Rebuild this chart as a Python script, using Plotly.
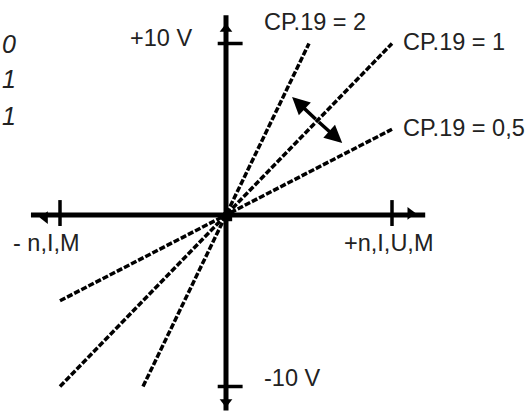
import plotly.graph_objects as go

# Characteristic lines: (label, x_end, y_end) with line through origin
curve_labels = ["CP.19 = 2", "CP.19 = 1", "CP.19 = 0,5"]
curve_x_neg = [-5, -10, -10]
curve_y_neg = [-10, -10, -5]
curve_x_pos = [5, 10, 10]
curve_y_pos = [10, 10, 5]

axis_x_range = [-11.75, 12.0]
axis_y_range = [-11.4, 11.65]
tick_vals = [-10, 10]
axis_labels = ["+10 V", "-10 V", "- n,I,M", "+n,I,U,M"]
left_digits = ["0", "1", "1"]

# pixel mapping helpers
W, H = 525, 411
OX, OY, SX, SY = 226, 215, 16.6, 17.15
xr = [(0 - OX) / SX, (W - OX) / SX]
yr = [(OY - H) / SY, (OY - 0) / SY]

fig = go.Figure()
FONT = "Liberation Sans, Arial, Helvetica, sans-serif"
TXT = "#222222"

# characteristic lines
for xn, yn, xp, yp in zip(curve_x_neg, curve_y_neg, curve_x_pos, curve_y_pos):
    fig.add_trace(go.Scatter(x=[xn, 0, xp], y=[yn, 0, yp], mode="lines",
                             line=dict(color="black", width=3.5, dash="6px,2px"),
                             hoverinfo="skip", showlegend=False))

# axes
fig.add_trace(go.Scatter(x=axis_x_range, y=[0, 0], mode="lines",
                         line=dict(color="black", width=5), showlegend=False, hoverinfo="skip"))
fig.add_trace(go.Scatter(x=[0, 0], y=axis_y_range, mode="lines",
                         line=dict(color="black", width=5), showlegend=False, hoverinfo="skip"))
# axis arrow heads
fig.add_trace(go.Scatter(x=[0, 0, -10.9, 11.1], y=[10.85, -10.9, -0.15, 0.1], mode="markers",
                         marker=dict(symbol=["triangle-up", "triangle-down", "triangle-left", "triangle-right"],
                                     size=11, color="black"),
                         showlegend=False, hoverinfo="skip"))
# ticks
for v in tick_vals:
    fig.add_trace(go.Scatter(x=[-0.5, 1.0], y=[v, v], mode="lines",
                             line=dict(color="black", width=3.5), showlegend=False, hoverinfo="skip"))
    fig.add_trace(go.Scatter(x=[v, v], y=[0.87, -0.64], mode="lines",
                             line=dict(color="black", width=3.5), showlegend=False, hoverinfo="skip"))
# origin blob
fig.add_trace(go.Scatter(x=[0.1], y=[-0.1], mode="markers",
                         marker=dict(symbol="square", size=9, color="black"),
                         showlegend=False, hoverinfo="skip"))

ann = []
def txt(x, y, s, xa="left", italic=False, size=23.5):
    ann.append(dict(x=x, y=y, text=("<i>%s</i>" % s) if italic else s, showarrow=False,
                    xanchor=xa, yanchor="middle", borderpad=0,
                    font=dict(family=FONT, size=size, color=TXT)))

txt(-1.99, 10.35, axis_labels[0], "right")
txt(2.2, -9.5, axis_labels[1])
txt(-12.9, -1.63, axis_labels[2])
txt(7.05, -1.63, axis_labels[3])
txt(2.2, 11.25, curve_labels[0])
txt(10.6, 10.1, curve_labels[1])
txt(10.6, 5.07, curve_labels[2])
for d, yy in zip(left_digits, [9.97, 7.93, 5.77]):
    txt(-12.6, yy, d, "right", italic=True, size=25)

# double arrow between CP.19 = 2 and CP.19 = 0,5
for (ex, ey) in [(3.98, 6.88), (7.0, 4.2)]:
    ann.append(dict(x=ex, y=ey, ax=5.5, ay=5.5, axref="x", ayref="y", xref="x", yref="y",
                    showarrow=True, arrowhead=2, arrowsize=1.0, arrowwidth=3.5,
                    arrowcolor="black", text=""))

fig.update_layout(width=W, height=H, margin=dict(l=0, r=0, t=0, b=0),
                  paper_bgcolor="white", plot_bgcolor="white",
                  xaxis=dict(range=xr, visible=False, fixedrange=True),
                  yaxis=dict(range=yr, visible=False, fixedrange=True),
                  annotations=ann, showlegend=False)
fig.write_html("out.html", config={"displayModeBar": False},
               post_script="document.body.style.margin='0';document.body.style.overflow='hidden';")
